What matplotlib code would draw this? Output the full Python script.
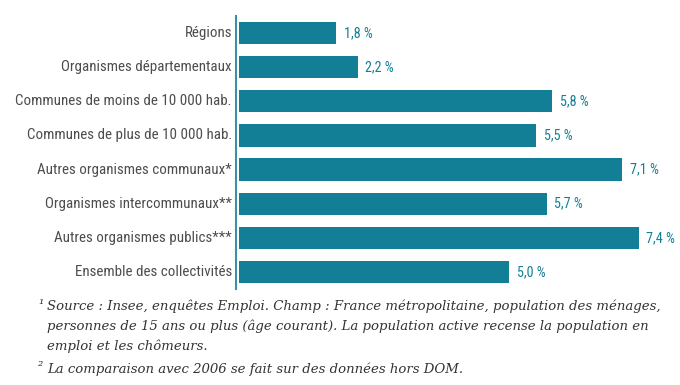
import matplotlib.pyplot as plt
from matplotlib import font_manager

# Data
categories = [
    'Régions',
    'Organismes départementaux',
    'Communes de moins de 10 000 hab.',
    'Communes de plus de 10 000 hab.',
    'Autres organismes communaux*',
    'Organismes intercommunaux**',
    'Autres organismes publics***',
    'Ensemble des collectivités',
]
values = [1.8, 2.2, 5.8, 5.5, 7.1, 5.7, 7.4, 5.0]
value_labels = ['1,8 %', '2,2 %', '5,8 %', '5,5 %', '7,1 %', '5,7 %', '7,4 %', '5,0 %']

bar_color = '#137f96'
label_color = '#4d4d4d'

# pick a narrow font if one is around
names = {f.name for f in font_manager.fontManager.ttflist}
stretch = 'normal'
if 'Roboto Condensed' in names:
    narrow = 'Roboto Condensed'
elif 'Liberation Sans Narrow' in names:
    narrow = 'Liberation Sans Narrow'
elif any(f.name == 'DejaVu Sans' and f.stretch == 'condensed' for f in font_manager.fontManager.ttflist):
    narrow = 'DejaVu Sans'
    stretch = 'condensed'
else:
    narrow = 'Roboto'

fig = plt.figure(figsize=(6.8, 3.85), dpi=100)
ax = fig.add_axes([239 / 680, 1 - 289 / 385, 432 / 680, 273 / 385])

y = list(range(len(categories)))
ax.barh(y, values, height=0.65, color=bar_color)
ax.set_ylim(len(categories) - 0.5, -0.5)
ax.set_xlim(0, 8.0)

for yi, v, lab in zip(y, values, value_labels):
    ax.text(v + 0.14, yi, lab, va='center', ha='left', fontsize=10.2,
            color=bar_color, family=narrow, stretch=stretch)

# category labels drawn as plain texts so the narrow font sticks
ax.set_yticks([])
ax.set_xticks([])
for yi, cat in zip(y, categories):
    ax.text(-7 / 432, yi, cat, transform=ax.get_yaxis_transform(),
            ha='right', va='center', fontsize=10.8, color=label_color,
            family=narrow, stretch=stretch)

for side in ['top', 'right', 'bottom']:
    ax.spines[side].set_visible(False)
ax.spines['left'].set_color('#3b8fa6')
ax.spines['left'].set_linewidth(1.5)
ax.spines['left'].set_position(('outward', 2))

# Footnotes
foot = dict(fontsize=9.5, style='italic', color='#333333',
            family=['DejaVu Serif'], ha='left', va='center')
fig.text(38 / 680, 1 - 304 / 385, '¹', **foot)
fig.text(47 / 680, 1 - 306 / 385,
         'Source : Insee, enquêtes Emploi. Champ : France métropolitaine, population des ménages,', **foot)
fig.text(47 / 680, 1 - 326 / 385,
         'personnes de 15 ans ou plus (âge courant). La population active recense la population en', **foot)
fig.text(47 / 680, 1 - 346 / 385, 'emploi et les chômeurs.', **foot)
fig.text(38 / 680, 1 - 367 / 385, '²', **foot)
fig.text(47 / 680, 1 - 369 / 385,
         'La comparaison avec 2006 se fait sur des données hors DOM.', **foot)

fig.savefig('out.png', dpi=100)
